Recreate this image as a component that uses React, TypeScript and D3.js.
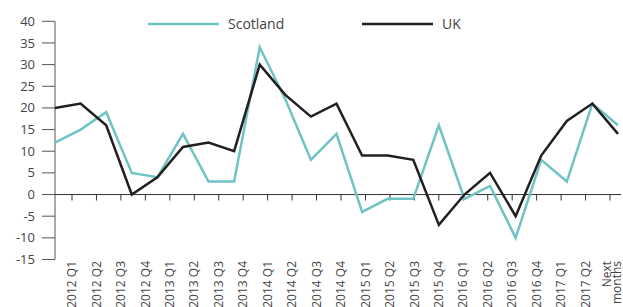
import React from "react";
import { scaleLinear, scalePoint, line } from "d3";

const width = 623;
const height = 307;

const categories = [
  "2012 Q1", "2012 Q2", "2012 Q3", "2012 Q4",
  "2013 Q1", "2013 Q2", "2013 Q3", "2013 Q4",
  "2014 Q1", "2014 Q2", "2014 Q3", "2014 Q4",
  "2015 Q1", "2015 Q2", "2015 Q3", "2015 Q4",
  "2016 Q1", "2016 Q2", "2016 Q3", "2016 Q4",
  "2017 Q1", "2017 Q2", "Next 6 months",
];
const scotland = [12, 15, 19, 5, 4, 14, 3, 3, 34, 22, 8, 14, -4, -1, -1, 16, -1, 2, -10, 8, 3, 21, 16];
const uk = [20, 21, 16, 0, 4, 11, 12, 10, 30, 23, 18, 21, 9, 9, 8, -7, 0, 5, -5, 9, 17, 21, 14];
const yTicks = [40, 35, 30, 25, 20, 15, 10, 5, 0, -5, -10, -15];

const series = [
  { name: "Scotland", values: scotland, color: "#6fc3c5" },
  { name: "UK", values: uk, color: "#231f20" },
];

const font = "'Open Sans', sans-serif";
const textColor = "#444";

// line points and the axis ticks don't share spacing in the original
const xLine = scalePoint<string>().domain(categories).range([55, 618]);
const xTick = scalePoint<string>().domain(categories).range([72, 610]);
const y = scaleLinear().domain([-15, 40]).range([259.5, 21.3]);

const lineGen = line<number>()
  .x((_, i) => xLine(categories[i]) as number)
  .y((d) => y(d));

const App = () => (
  <svg
    width={width}
    height={height}
    style={{ position: "absolute", left: 0, top: 0 }}
    fontFamily={font}
  >
    {/* y axis */}
    <line x1={55} x2={55} y1={y(40)} y2={y(-15)} stroke="#555" strokeWidth={1} />
    {yTicks.map((t) => (
      <g key={t} transform={`translate(0, ${y(t)})`}>
        <line x1={42} x2={55} stroke="#555" strokeWidth={1} />
        <text x={35} dy="0.35em" textAnchor="end" fontSize={13} fill={textColor}>
          {t}
        </text>
      </g>
    ))}

    {/* zero line + category ticks */}
    <line x1={55} x2={621} y1={y(0)} y2={y(0)} stroke="#333" strokeWidth={1} />
    {categories.map((c) => {
      const tx = xTick(c) as number;
      const parts = c === "Next 6 months" ? ["Next", "6 months"] : [c];
      return (
        <g key={c}>
          <line x1={tx} x2={tx} y1={y(0)} y2={y(0) + 6} stroke="#333" strokeWidth={1} />
          <text
            transform={`translate(${tx}, 261) rotate(-90)`}
            textAnchor="end"
            fontSize={12}
            fill={textColor}
          >
            {parts.map((p, i) => (
              <tspan key={p} x={0} dy={parts.length === 1 ? "0.35em" : i === 0 ? "0.1em" : "0.85em"}>
                {p}
              </tspan>
            ))}
          </text>
        </g>
      );
    })}

    {/* lines */}
    {series.map((s) => (
      <path
        key={s.name}
        d={lineGen(s.values) ?? ""}
        fill="none"
        stroke={s.color}
        strokeWidth={2.5}
        strokeLinejoin="miter"
      />
    ))}

    {/* legend */}
    {series.map((s, i) => (
      <g key={s.name} transform={`translate(${148 + i * 214}, 24)`}>
        <line x1={0} x2={71} stroke={s.color} strokeWidth={2.5} />
        <text x={80} dy="0.35em" fontSize={14} fill={textColor}>
          {s.name}
        </text>
      </g>
    ))}
  </svg>
);

export default App;
